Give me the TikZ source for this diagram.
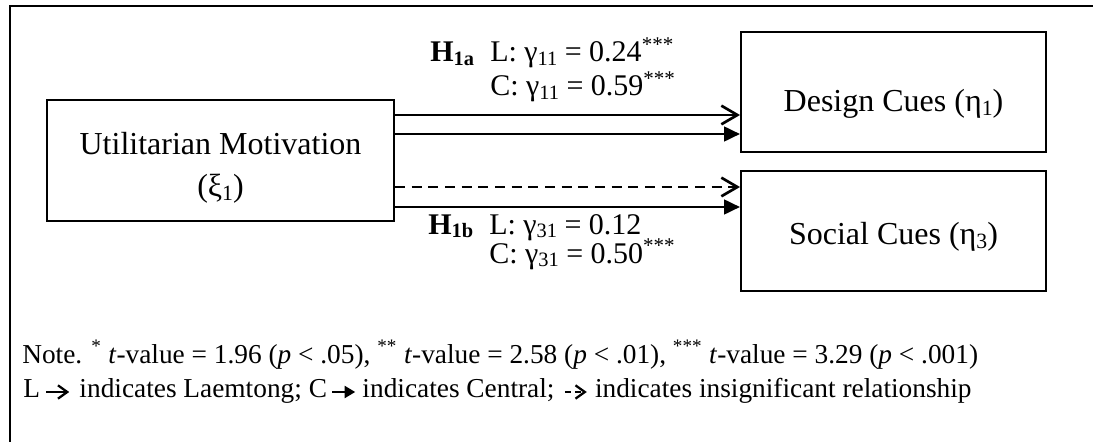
\documentclass[tikz,border=0pt]{standalone}
\usepackage{fontspec}
\setmainfont{Liberation Serif}
\usetikzlibrary{arrows.meta,calc}
\newcommand{\lowsub}[1]{\raisebox{-0.12em}{\scalebox{0.68}{#1}}}
\begin{document}
\begin{tikzpicture}[x=0.75pt,y=-0.75pt,
  box/.style={draw,line width=1.5pt,inner sep=0pt},
  big/.style={font=\fontsize{24}{29}\selectfont,inner sep=0pt},
  lab/.style={font=\fontsize{20.5}{25}\selectfont,inner sep=0pt},
  plab/.style={font=\fontsize{22.5}{27}\selectfont,inner sep=0pt},
  openarr/.style={line width=2pt,-{Straight Barb[length=12pt,width=14pt]}},
  fillarr/.style={line width=2pt,-{Triangle[length=12pt,width=11pt]}},
  dasharr/.style={openarr,dash pattern=on 7.5pt off 5pt},
  smallopen/.style={line width=1.7pt,-{Straight Barb[length=7pt,width=10pt]}},
  smallfill/.style={line width=1.7pt,-{Triangle[length=8pt,width=9pt]}},
  smalldash/.style={smallopen,dash pattern=on 4.5pt off 3pt},
]
\useasboundingbox (0,0) rectangle (1093,442);
% outer frame (top and left edges only)
\draw[line width=1.5pt] (10,450) -- (10,6) -- (1100,6);

% boxes
\node[box,minimum width=260.25pt,minimum height=90.75pt] (um) at (220.5,160.5) {};
\node[box,minimum width=228.75pt,minimum height=90pt] (dc) at (893.5,92) {};
\node[box,minimum width=228.75pt,minimum height=90pt] (sc) at (893.5,231) {};

\node[big,anchor=base] (umt1) at (220.5,155) {Utilitarian Motivation};
\node[big,anchor=base] (umt2) at (220.5,197) {(ξ\lowsub{1})};
\node[big,anchor=base] (dct) at (893.5,112) {Design Cues (η\lowsub{1})};
\node[big,anchor=base] (sct) at (893.5,245) {Social Cues (η\lowsub{3})};

% connectors
\coordinate (y1) at (0,115);
\coordinate (y2) at (0,134);
\coordinate (y3) at (0,187);
\coordinate (y4) at (0,207);
\draw[openarr] (um.east |- y1) -- (dc.west |- y1);
\draw[fillarr] (um.east |- y2) -- (dc.west |- y2);
\draw[dasharr] (um.east |- y3) -- (sc.west |- y3);
\draw[fillarr] (um.east |- y4) -- (sc.west |- y4);

% path labels
\node[plab,anchor=base west] (h1a) at (430,62) {\textbf{H\lowsub{1a}}};
\node[plab,anchor=base west] (l1a) at (490,62) {L: γ\lowsub{11} = 0.24\textsuperscript{***}};
\node[plab,anchor=base west] (c1a) at (490,96) {C: γ\lowsub{11} = 0.59\textsuperscript{***}};
\node[plab,anchor=base west] (h1b) at (428,234) {\textbf{H\lowsub{1b}}};
\node[plab,anchor=base west] (l1b) at (489,234) {L: γ\lowsub{31} = 0.12};
\node[plab,anchor=base west] (c1b) at (489,263) {C: γ\lowsub{31} = 0.50\textsuperscript{***}};

% note
\node[lab,anchor=base west] (note1) at (22,363) {Note. \textsuperscript{*} \textit{t}-value = 1.96 (\textit{p} < .05), \textsuperscript{**} \textit{t}-value = 2.58 (\textit{p} < .01), \textsuperscript{***} \textit{t}-value = 3.29 (\textit{p} < .001)};

\node[lab,anchor=base west] (nL) at (23,397) {L};
\coordinate (a1s) at ($(nL.base east)+(6,-5)$);
\coordinate (a1e) at ($(a1s)+(23,0)$);
\draw[smallopen] (a1s) -- (a1e);
\node[lab,anchor=base west] (nC) at ($(a1e)+(10,5)$) {indicates Laemtong; C};
\coordinate (a2s) at ($(nC.base east)+(5,-5)$);
\coordinate (a2e) at ($(a2s)+(23,0)$);
\draw[smallfill] (a2s) -- (a2e);
\node[lab,anchor=base west] (nCe) at ($(a2e)+(7,5)$) {indicates Central;};
\coordinate (a3s) at ($(nCe.base east)+(10,-5)$);
\coordinate (a3e) at ($(a3s)+(22,0)$);
\draw[smalldash] (a3s) -- (a3e);
\node[lab,anchor=base west] (nI) at ($(a3e)+(8,5)$) {indicates insignificant relationship};
\end{tikzpicture}
\end{document}
